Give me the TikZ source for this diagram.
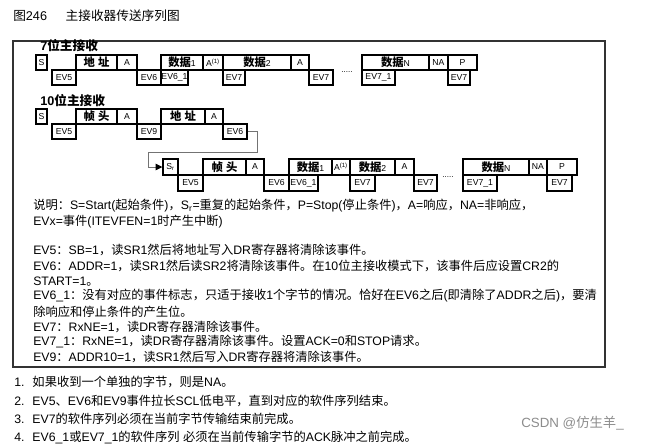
\documentclass[tikz,border=0pt]{standalone}
\usepackage{fontspec}
\usetikzlibrary{arrows.meta}
\setmainfont{Liberation Sans}
\newfontfamily\cjkfont{Noto Sans CJK SC}
\XeTeXinterchartokenstate=1
\newXeTeXintercharclass\cjkclass
\count255="4E00
\loop\XeTeXcharclass\count255=\cjkclass\ifnum\count255<"9FFF\advance\count255 1\repeat
\count255="3000
\loop\XeTeXcharclass\count255=\cjkclass\ifnum\count255<"303F\advance\count255 1\repeat
\count255="FF00
\loop\XeTeXcharclass\count255=\cjkclass\ifnum\count255<"FFEF\advance\count255 1\repeat
\XeTeXinterchartoks 0 \cjkclass={\begingroup\cjkfont}
\XeTeXinterchartoks 4095 \cjkclass={\begingroup\cjkfont}
\XeTeXinterchartoks \cjkclass 0={\endgroup}
\XeTeXinterchartoks \cjkclass 4095={\endgroup}
\newcommand\bx[6]{\pgfmathsetmacro\bw{(#4-#2)*0.75}\pgfmathsetmacro\bh{(#5-#3)*0.75}%
\node[bxs,minimum width=\bw pt,minimum height=\bh pt] (#1) at ({(#2+#4)/2},{(#3+#5)/2}) {#6};}
\begin{document}
\begin{tikzpicture}[x=0.75pt,y=-0.75pt,
 bxs/.style={draw,line width=1.1pt,inner sep=0pt,font=\fontsize{6.5}{7}\selectfont},
 cj/.style={font=\fontsize{8.5}{9}\selectfont\bfseries},
 txt/.style={anchor=west,inner sep=0pt,font=\fontsize{9.2}{11}\selectfont},
 hd/.style={anchor=west,inner sep=0pt,font=\fontsize{9.5}{11}\selectfont\bfseries}]
\useasboundingbox (0,0) rectangle (652,444);
\node[anchor=west,inner sep=0pt,font=\fontsize{9.5}{11}\selectfont] (title) at (13,16) {图246\hspace{14pt}主接收器传送序列图};
\draw[line width=0.9pt,draw=black!80] (13,41) rectangle (605,367);
% row 1
\node[hd] (h7) at (40,46) {7位主接收};
\bx{a1}{36}{55}{47}{70}{S}
\bx{a2}{52}{70}{76}{85}{EV5}
\bx{a3}{76}{55}{117}{70}{\fontsize{8.5}{9}\selectfont\bfseries 地 址}
\bx{a4}{117}{55}{137}{70}{A}
\bx{a5}{137}{70}{161}{85}{EV6}
\bx{a6}{161}{55}{203}{70}{\fontsize{8.5}{9}\selectfont\bfseries 数据{\fontsize{6.5}{7}\selectfont\mdseries 1}}
\bx{a7}{161}{70}{188}{85}{EV6\_1}
\bx{a8}{203}{55}{223}{70}{A\textsuperscript{(1)}}
\bx{a9}{223}{55}{291}{70}{\fontsize{8.5}{9}\selectfont\bfseries 数据{\fontsize{6.5}{7}\selectfont\mdseries 2}}
\bx{a10}{223}{70}{245}{85}{EV7}
\bx{a11}{291}{55}{309}{70}{A}
\bx{a12}{309}{70}{333}{85}{EV7}
\node[font=\fontsize{6}{6}\selectfont,inner sep=0pt] (d1) at (347,72) {.....};
\bx{a13}{362}{55}{429}{70}{\fontsize{8.5}{9}\selectfont\bfseries 数据{\fontsize{6.5}{7}\selectfont\mdseries N}}
\bx{a14}{362}{70}{395}{85}{EV7\_1}
\bx{a15}{429}{55}{448}{70}{NA}
\bx{a16}{448}{55}{477}{70}{P}
\bx{a17}{448}{70}{470}{85}{EV7}
% row 2
\node[hd] (h10) at (40,101) {10位主接收};
\bx{b1}{36}{109}{47}{124}{S}
\bx{b2}{52}{124}{76}{139}{EV5}
\bx{b3}{76}{109}{117}{124}{\fontsize{8.5}{9}\selectfont\bfseries 帧 头}
\bx{b4}{117}{109}{137}{124}{A}
\bx{b5}{137}{124}{161}{139}{EV9}
\bx{b6}{161}{109}{205}{124}{\fontsize{8.5}{9}\selectfont\bfseries 地 址}
\bx{b7}{205}{109}{223}{124}{A}
\bx{b8}{223}{124}{247}{139}{EV6}
% row 3
\bx{c1}{163}{159}{178}{175}{S\textsubscript{r}}
\bx{c2}{178}{175}{203}{191}{EV5}
\bx{c3}{203}{159}{246}{175}{\fontsize{8.5}{9}\selectfont\bfseries 帧 头}
\bx{c4}{246}{159}{264}{175}{A}
\bx{c5}{264}{175}{289}{191}{EV6}
\bx{c6}{289}{159}{332}{175}{\fontsize{8.5}{9}\selectfont\bfseries 数据{\fontsize{6.5}{7}\selectfont\mdseries 1}}
\bx{c7}{289}{175}{318}{191}{EV6\_1}
\bx{c8}{332}{159}{350}{175}{A\textsuperscript{(1)}}
\bx{c9}{350}{159}{395}{175}{\fontsize{8.5}{9}\selectfont\bfseries 数据{\fontsize{6.5}{7}\selectfont\mdseries 2}}
\bx{c10}{350}{175}{375}{191}{EV7}
\bx{c11}{395}{159}{414}{175}{A}
\bx{c12}{414}{175}{437}{191}{EV7}
\node[font=\fontsize{6}{6}\selectfont,inner sep=0pt] (d2) at (448,177) {.....};
\bx{c13}{463}{159}{529}{175}{\fontsize{8.5}{9}\selectfont\bfseries 数据{\fontsize{6.5}{7}\selectfont\mdseries N}}
\bx{c14}{463}{175}{497}{191}{EV7\_1}
\bx{c15}{529}{159}{547}{175}{NA}
\bx{c16}{547}{159}{577}{175}{P}
\bx{c17}{547}{175}{572}{191}{EV7}
\coordinate (k1) at (257,131.5);
\coordinate (k2) at (257,152);
\coordinate (k3) at (148,152);
\coordinate (k4) at (148,167);
\draw[black!55,line width=0.6pt] (b8.east) -- (k1) -- (k2) -- (k3) -- (k4);
\draw[black!55,line width=0.6pt,-{Triangle[black,length=5pt,width=5pt]}] (k4) -- (c1.west);
% notes
\node[txt] (t1) at (33,206) {说明：S=Start(起始条件)，S\textsubscript{r}=重复的起始条件，P=Stop(停止条件)，A=响应，NA=非响应，};
\node[txt] (t2) at (33,222) {EVx=事件(ITEVFEN=1时产生中断)};
\node[txt] (t3) at (33,250) {EV5：SB=1，读SR1然后将地址写入DR寄存器将清除该事件。};
\node[txt] (t4) at (33,266) {EV6：ADDR=1，读SR1然后读SR2将清除该事件。在10位主接收模式下，该事件后应设置CR2的};
\node[txt] (t5) at (33,282) {START=1。};
\node[txt] (t6) at (33,296) {EV6\_1：没有对应的事件标志，只适于接收1个字节的情况。恰好在EV6之后(即清除了ADDR之后)，要清};
\node[txt] (t7) at (33,312) {除响应和停止条件的产生位。};
\node[txt] (t8) at (33,327) {EV7：RxNE=1，读DR寄存器清除该事件。};
\node[txt] (t9) at (33,342) {EV7\_1：RxNE=1，读DR寄存器清除该事件。设置ACK=0和STOP请求。};
\node[txt] (t10) at (33,357) {EV9：ADDR10=1，读SR1然后写入DR寄存器将清除该事件。};
\node[txt] (n1) at (14,382) {1.\hspace{6pt}如果收到一个单独的字节，则是NA。};
\node[txt] (n2) at (14,401) {2.\hspace{6pt}EV5、EV6和EV9事件拉长SCL低电平，直到对应的软件序列结束。};
\node[txt] (n3) at (14,419) {3.\hspace{6pt}EV7的软件序列必须在当前字节传输结束前完成。};
\node[txt] (n4) at (14,437) {4.\hspace{6pt}EV6\_1或EV7\_1的软件序列 必须在当前传输字节的ACK脉冲之前完成。};
\node[txt,text=black!45,font=\fontsize{10}{11}\selectfont] (wm) at (521,423) {CSDN @仿生羊\_};
\end{tikzpicture}
\end{document}
